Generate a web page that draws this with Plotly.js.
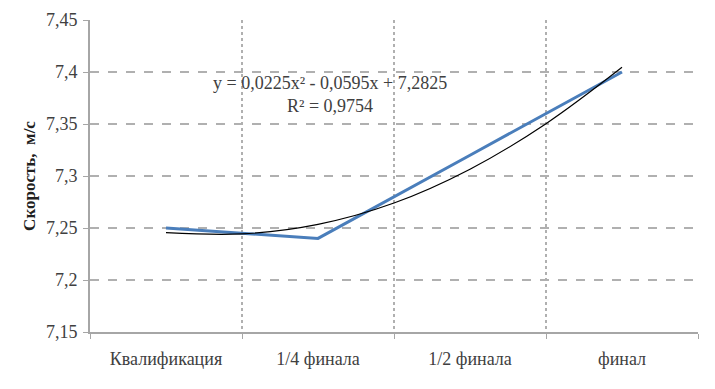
<!DOCTYPE html>
<html>
<head>
<meta charset="utf-8">
<script src="https://cdn.plot.ly/plotly-3.0.1.min.js"></script>
<style>html,body{margin:0;padding:0;background:#fff;}#chart{width:715px;height:389px;}</style>
</head>
<body>
<div id="chart"></div>
<script>
const categories = ["Квалификация", "1/4 финала", "1/2 финала", "финал"];
const categoryPos = [1, 2, 3, 4];
const speed = [7.25, 7.24, 7.32, 7.40];
const trendX = [1, 1.5, 2, 2.5, 3, 3.5, 4];
const trendY = [7.2455, 7.2443, 7.2535, 7.2740, 7.3065, 7.3503, 7.4045];
const yTickVals = [7.15, 7.2, 7.25, 7.3, 7.35, 7.4, 7.45];
const yTickText = ["7,15", "7,2", "7,25", "7,3", "7,35", "7,4", "7,45"];
const equationText = "y = 0,0225x² - 0,0595x + 7,2825<br>R² = 0,9754";

const font = "Times New Roman, Liberation Serif, serif";

const traces = [
  {x: categoryPos, y: speed, type: "scatter", mode: "lines",
   line: {color: "#4a7ebb", width: 3}, hoverinfo: "skip"},
  {x: trendX, y: trendY, type: "scatter", mode: "lines",
   line: {color: "#000000", width: 1.2, shape: "spline"}, hoverinfo: "skip"}
];

const layout = {
  width: 715, height: 389,
  margin: {l: 90, r: 17, t: 20, b: 57},
  paper_bgcolor: "#fff", plot_bgcolor: "#fff",
  showlegend: false,
  separators: ", ",
  font: {family: font, size: 18, color: "#404040"},
  xaxis: {
    range: [0.5, 4.5], tickvals: categoryPos, ticktext: categories,
    showgrid: false, zeroline: false, fixedrange: true,
    showline: true, linecolor: "#a6a6a6", linewidth: 2,
    ticks: "", ticklabelstandoff: 9,
    tickfont: {family: font, size: 18, color: "#404040"},
    minor: {tick0: 0.5, dtick: 1, showgrid: true, gridcolor: "#b0b0b0", gridwidth: 1.5, griddash: "dot", ticks: "outside", ticklen: 5, tickcolor: "#a6a6a6"}
  },
  yaxis: {
    range: [7.15, 7.45], tickvals: yTickVals, ticktext: yTickText,
    showgrid: true, gridcolor: "#b0b0b0", gridwidth: 1.5, griddash: "dash",
    zeroline: false, fixedrange: true,
    showline: true, linecolor: "#a6a6a6", linewidth: 2,
    ticks: "outside", ticklen: 5, tickcolor: "#a6a6a6",
    ticklabelstandoff: 2,
    tickfont: {family: font, size: 18, color: "#404040"},
    title: {text: "<b>Скорость,  м/с</b>", font: {family: font, size: 17, color: "#202020"}, standoff: 6}
  },
  annotations: [{
    x: 2.08, y: 7.378, xref: "x", yref: "y", text: equationText, showarrow: false,
    align: "center", font: {family: font, size: 18, color: "#404040"}
  }]
};

Plotly.newPlot("chart", traces, layout, {staticPlot: true, displayModeBar: false});
</script>
</body>
</html>
